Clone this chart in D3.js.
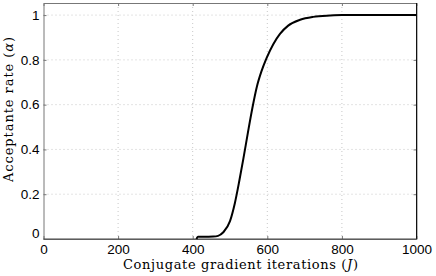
<!DOCTYPE html>
<html>
<head>
<script src="https://d3js.org/d3.v7.min.js"></script>
<style>
  body { margin: 0; background: #fff; }
  .tick text { font-family: "Liberation Sans", Arial, sans-serif; font-size: 13.5px; fill: #000; }
</style>
</head>
<body>
<div id="chart"></div>
<script>
// values
var iterations = [410, 414, 430, 455, 468, 482, 500, 513, 525, 536, 548, 560, 572, 585, 598, 616, 634, 656, 688, 723, 768, 800, 1000];
var acceptance = [0.0, 0.01, 0.01, 0.011, 0.014, 0.03, 0.08, 0.16, 0.26, 0.36, 0.475, 0.585, 0.68, 0.752, 0.808, 0.87, 0.916, 0.953, 0.979, 0.992, 0.998, 1.0, 1.0];
var xTicks = [0, 200, 400, 600, 800, 1000];
var yTicks = [0, 0.2, 0.4, 0.6, 0.8, 1];

var margin = {top: 3, right: 19.5, bottom: 37, left: 43.5},
    width = 436 - margin.left - margin.right,
    height = 276 - margin.top - margin.bottom;

var svg = d3.select("#chart").append("svg")
    .attr("width", 436)
    .attr("height", 276)
  .append("g")
    .attr("transform", "translate(" + margin.left + "," + margin.top + ")");

var x = d3.scaleLinear().domain([0, 1000]).range([0, width]);
var y = d3.scaleLinear().domain([0, 1.054]).range([height, 0]);

// dotted grid
svg.append("g").selectAll("line").data(xTicks.slice(1, -1)).join("line")
    .attr("x1", d => x(d)).attr("x2", d => x(d))
    .attr("y1", 0).attr("y2", height)
    .attr("stroke", "#c8c8c8").attr("stroke-dasharray", "1,3");
svg.append("g").selectAll("line").data(yTicks.slice(1)).join("line")
    .attr("x1", 0).attr("x2", width)
    .attr("y1", d => y(d)).attr("y2", d => y(d))
    .attr("stroke", "#c8c8c8").attr("stroke-dasharray", "1,3");

// axes with inward ticks
svg.append("g")
    .attr("transform", "translate(0," + height + ")")
    .call(d3.axisBottom(x).tickValues(xTicks).tickSize(-3).tickPadding(5).tickSizeOuter(0).tickFormat(d3.format("d")));
var yAxis = svg.append("g")
    .call(d3.axisLeft(y).tickValues(yTicks).tickSize(-3).tickPadding(4).tickSizeOuter(0)
      .tickFormat(d => d === 0 ? "0" : d3.format("~g")(d)));
svg.append("g")
    .call(d3.axisTop(x).tickValues(xTicks).tickSize(-3).tickFormat("").tickSizeOuter(0));
svg.append("g")
    .attr("transform", "translate(" + width + ",0)")
    .call(d3.axisRight(y).tickValues(yTicks).tickSize(-3).tickFormat("").tickSizeOuter(0));
svg.selectAll(".domain").attr("stroke", "#777");
svg.selectAll(".tick line").attr("stroke", "#777");
yAxis.select(".tick:first-of-type text").attr("dy", "-0.1em");

// right and bottom border darker
svg.append("line").attr("x1", width).attr("x2", width).attr("y1", 0).attr("y2", height)
    .attr("stroke", "#111");
svg.append("line").attr("x1", 0).attr("x2", width).attr("y1", height).attr("y2", height)
    .attr("stroke", "#444");

// the curve
var line = d3.line()
    .x((d, i) => x(iterations[i]))
    .y(d => y(d))
    .curve(d3.curveMonotoneX);
svg.append("path")
    .datum(acceptance)
    .attr("d", line)
    .attr("fill", "none")
    .attr("stroke", "#000")
    .attr("stroke-width", 2);

// axis labels (serif, like the LaTeX labels)
svg.append("text")
    .style("font-family", "'DejaVu Serif', serif")
    .style("font-size", "13px")
    .attr("text-anchor", "middle")
    .attr("x", 197)
    .attr("y", height + 30)
    .attr("textLength", 235)
    .attr("lengthAdjust", "spacing")
    .html('Conjugate gradient iterations (<tspan font-style="italic">J</tspan>)');
svg.append("text")
    .style("font-family", "'DejaVu Serif', serif")
    .style("font-size", "13px")
    .attr("text-anchor", "middle")
    .attr("transform", "rotate(-90)")
    .attr("x", -106.5)
    .attr("y", -31)
    .attr("textLength", 145)
    .attr("lengthAdjust", "spacing")
    .html('Acceptante rate (<tspan font-style="italic">α</tspan>)');
</script>
</body>
</html>
